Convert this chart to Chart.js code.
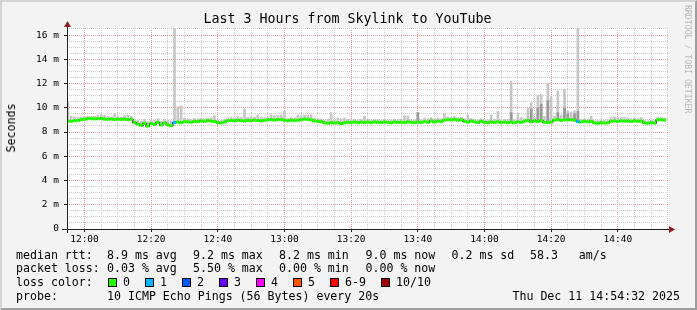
<!DOCTYPE html>
<html>
<head>
<meta charset="utf-8">
<script src="https://cdn.jsdelivr.net/npm/chart.js@4.4.1/dist/chart.umd.min.js"></script>
<style>
  html, body { margin: 0; padding: 0; background: #f3f3f3; }
  #wrap { position: relative; width: 697px; height: 310px; overflow: hidden;
          font-family: "DejaVu Sans Mono", monospace; color: #000; }
  #wrap canvas { position: absolute; left: 0; top: 0; }
  .frame { position: absolute; left: 0; top: 0; width: 697px; height: 310px; box-sizing: border-box;
           border: 2px solid; border-color: #d4d4d4 #9e9e9e #9e9e9e #d4d4d4; pointer-events: none; }
  .t { position: absolute; white-space: pre; font-size: 11.6px; line-height: 14px; }
  .title { position: absolute; left: 0; width: 695px; top: 11.4px; text-align: center;
           font-size: 13.3px; line-height: 16px; white-space: pre; }
  .ylab { position: absolute; left: 11px; top: 127.5px; font-size: 11.6px; line-height: 14px;
          transform: translate(-50%, -50%) rotate(-90deg); white-space: pre; }
  .mark { position: absolute; left: 683px; top: 5px; writing-mode: vertical-rl; font-size: 8.2px;
          line-height: 9px; color: #b8b8b8; white-space: pre; }
  .box { position: absolute; width: 9px; height: 9px; box-sizing: border-box; border: 1px solid #000; top: 278px; }
</style>
</head>
<body>
<div id="wrap">
  <canvas id="chart" width="697" height="310"></canvas>
  <div class="title">Last 3 Hours from Skylink to YouTube</div>
  <div class="ylab">Seconds</div>
  <div class="mark">RRDTOOL / TOBI OETIKER</div>

  <span class="t" style="left:16px;top:247.5px">median rtt:</span>
  <span class="t" style="left:107px;top:247.5px">8.9 ms avg</span>
  <span class="t" style="left:193px;top:247.5px">9.2 ms max</span>
  <span class="t" style="left:279px;top:247.5px">8.2 ms min</span>
  <span class="t" style="left:365.5px;top:247.5px">9.0 ms now</span>
  <span class="t" style="left:451.5px;top:247.5px">0.2 ms sd</span>
  <span class="t" style="left:530px;top:247.5px">58.3   am/s</span>

  <span class="t" style="left:16px;top:261.3px">packet loss:</span>
  <span class="t" style="left:107px;top:261.3px">0.03 % avg</span>
  <span class="t" style="left:193px;top:261.3px">5.50 % max</span>
  <span class="t" style="left:279px;top:261.3px">0.00 % min</span>
  <span class="t" style="left:365.5px;top:261.3px">0.00 % now</span>

  <span class="t" style="left:16px;top:275.3px">loss color:</span>
  <div id="losslegend"></div>

  <span class="t" style="left:16px;top:289px">probe:</span>
  <span class="t" style="left:107px;top:289px">10 ICMP Echo Pings (56 Bytes) every 20s</span>
  <span class="t" style="right:17px;top:289px">Thu Dec 11 14:54:32 2025</span>
  <div class="frame"></div>
</div>
<script>
// one sample per minute, first one at 11:55
const firstSample = '11:55';

// median rtt (ms) per minute
const median = [
  8.90, 8.88, 8.93, 8.95, 9.02, 9.05, 9.10, 9.12, 9.08, 9.10,
  9.12, 9.06, 9.05, 9.08, 9.03, 9.06, 9.04, 9.07, 9.02, 9.05,
  8.78, 8.65, 8.55, 8.72, 8.48, 8.70, 8.62, 8.80, 8.58, 8.75,
  8.60, 8.52, 8.78, 8.82, 8.76, 8.86, 8.84, 8.80, 8.88, 8.86,
  8.92, 8.88, 8.95, 8.90, 8.87, 8.78, 8.74, 8.82, 8.93, 8.96,
  8.92, 8.98, 8.94, 8.90, 8.97, 8.93, 8.99, 8.95, 8.91, 8.96,
  9.00, 9.03, 8.98, 9.02, 9.04, 8.96, 8.92, 8.98, 8.94, 8.97,
  9.02, 9.06, 9.04, 9.00, 8.92, 8.88, 8.86, 8.76, 8.72, 8.78,
  8.74, 8.77, 8.70, 8.76, 8.80, 8.78, 8.83, 8.76, 8.82, 8.79,
  8.81, 8.77, 8.84, 8.80, 8.78, 8.82, 8.80, 8.76, 8.83, 8.79,
  8.81, 8.78, 8.84, 8.80, 8.77, 8.82, 8.79, 8.86, 8.80, 8.92,
  8.82, 8.90, 8.85, 8.98, 9.02, 9.00, 9.04, 8.97, 9.01, 8.88,
  8.82, 8.90, 8.84, 8.78, 8.88, 8.80, 8.76, 8.83, 8.79, 8.85,
  8.77, 8.82, 8.78, 8.81, 8.76, 8.84, 8.80, 8.88, 8.96, 8.84,
  8.93, 8.86, 8.95, 8.80, 8.78, 8.82, 8.98, 9.02, 8.96, 9.01,
  8.99, 9.03, 8.97, 8.86, 8.82, 8.88, 8.84, 8.87, 8.75, 8.72,
  8.77, 8.74, 8.76, 8.88, 8.92, 8.87, 8.93, 8.89, 8.91, 8.86,
  8.94, 8.88, 8.90, 8.76, 8.72, 8.78, 8.74, 9.00, 9.02, 8.98
];

// top of the smoke (slowest ping) per minute
const smokeMax = [
  10.50, 9.30, 9.25, 9.20, 9.25, 9.25, 9.30, 9.28, 9.30, 9.40,
  9.45, 9.38, 9.30, 9.25, 9.50, 9.30, 9.22, 9.35, 9.38, 9.30,
  9.00, 8.95, 8.90, 9.05, 8.85, 9.00, 8.95, 9.10, 8.90, 9.05,
  8.95, 8.90, 16.60, 10.10, 10.15, 9.15, 9.10, 9.05, 9.12, 9.10,
  9.12, 9.10, 9.15, 9.18, 9.35, 9.00, 8.95, 9.05, 9.15, 9.20,
  9.18, 9.25, 9.20, 9.90, 9.20, 9.25, 9.22, 9.40, 9.20, 9.18,
  9.25, 9.40, 9.35, 9.38, 9.40, 9.70, 9.15, 9.20, 9.18, 9.40,
  9.35, 9.40, 9.38, 9.42, 9.15, 9.10, 9.08, 9.00, 9.05, 9.60,
  9.00, 9.15, 9.10, 9.15, 9.05, 9.00, 9.05, 9.00, 9.05, 9.30,
  9.05, 9.00, 9.05, 9.02, 9.00, 9.05, 9.02, 9.00, 9.05, 9.02,
  9.05, 9.35, 9.30, 9.05, 9.00, 9.60, 9.02, 9.15, 9.10, 9.20,
  9.10, 9.15, 9.10, 9.55, 9.25, 9.22, 9.28, 9.20, 9.22, 9.10,
  9.40, 9.12, 9.05, 9.00, 9.10, 9.02, 9.00, 9.40, 9.05, 9.70,
  9.00, 9.05, 9.05, 12.20, 9.00, 9.55, 9.20, 9.10, 9.95, 10.40,
  9.20, 11.05, 11.10, 9.30, 12.00, 10.90, 9.30, 11.40, 9.40, 11.50,
  9.70, 9.65, 9.75, 16.60, 9.05, 9.10, 9.05, 9.30, 8.95, 8.95,
  9.00, 8.95, 9.00, 9.20, 9.25, 9.20, 9.22, 9.20, 9.15, 9.10,
  9.15, 9.10, 9.20, 8.95, 8.92, 9.00, 8.95, 9.20, 9.20, 9.15
];

// darker inner smoke on the busy minutes
const innerAt   = ['13:40', '14:08', '14:14', '14:16', '14:17', '14:19', '14:22', '14:24', '14:25', '14:27', '14:28'];
const innerHigh = [9.6, 9.6, 9.9, 10.0, 10.3, 10.6, 9.6, 10.0, 9.5, 9.5, 9.7];

// minutes with packet loss (pings lost out of 10)
const lossAt    = ['12:27', '14:28'];
const lossCount = [1, 1];

const lossLabels = ['0', '1', '2', '3', '4', '5', '6-9', '10/10'];
const lossColors = ['#26ff00', '#00b8ff', '#0059ff', '#6a00ff', '#ff00ff', '#ff5500', '#ff0000', '#a10000'];

const yTop = 16.58;
const viewStart = 714.75, viewEnd = 895.35; // 11:54:45 .. 14:55:21

const toMin = s => { const [h, m] = s.split(':').map(Number); return h * 60 + m; };
const hhmm = v => Math.floor(v / 60) + ':' + String(v % 60).padStart(2, '0');

const t0 = toMin(firstSample);
const xs = median.map((_, i) => t0 + i);

const lossByMin = {};
lossAt.forEach((s, k) => { lossByMin[toMin(s)] = lossCount[k]; });
const lossColor = n => lossColors[n >= 10 ? 7 : n >= 6 ? 6 : n];

// loss color legend
const lg = document.getElementById('losslegend');
let bx = 108;
lossLabels.forEach((lab, k) => {
  const b = document.createElement('div');
  b.className = 'box'; b.style.left = bx + 'px'; b.style.background = lossColors[k];
  lg.appendChild(b);
  const s = document.createElement('span');
  s.className = 't'; s.style.left = (bx + 15) + 'px'; s.style.top = '275.3px'; s.textContent = lab;
  lg.appendChild(s);
  bx += 15 + lab.length * 7 + 15;
});

const majorGrid = 'rgb(240,150,150)';
const minorGrid = 'rgb(205,205,205)';
const isMajor = (c, every) => !!c.tick && c.tick.value % every === 0;

const frame = {
  id: 'frame',
  beforeDraw(chart) {
    const { ctx, chartArea: a } = chart;
    ctx.save();
    ctx.fillStyle = '#fff';
    ctx.fillRect(a.left, a.top, a.right - a.left, a.bottom - a.top);
    ctx.restore();
  },
  afterDatasetsDraw(chart) {
    const { ctx, chartArea: a } = chart;
    ctx.save();
    ctx.strokeStyle = '#202020';
    ctx.lineWidth = 1;
    ctx.beginPath();
    ctx.moveTo(a.left - 5, a.bottom + 0.5); ctx.lineTo(a.right + 1, a.bottom + 0.5);
    ctx.moveTo(a.left + 0.5, a.bottom + 4); ctx.lineTo(a.left + 0.5, a.top - 3);
    ctx.stroke();
    ctx.fillStyle = '#8f1f1f';
    ctx.beginPath();
    ctx.moveTo(a.left + 0.5, a.top - 7); ctx.lineTo(a.left - 3, a.top - 1); ctx.lineTo(a.left + 4, a.top - 1);
    ctx.closePath(); ctx.fill();
    ctx.beginPath();
    ctx.moveTo(a.right + 6, a.bottom + 0.5); ctx.lineTo(a.right, a.bottom - 3); ctx.lineTo(a.right, a.bottom + 4);
    ctx.closePath(); ctx.fill();
    ctx.restore();
  }
};

const font = { family: '"DejaVu Sans Mono", monospace', size: 9.5 };

new Chart(document.getElementById('chart'), {
  data: {
    datasets: [
      {
        type: 'line', label: 'median', order: 0,
        data: xs.map((x, i) => ({ x, y: median[i] })),
        showLine: false,
        pointStyle: 'line', pointRadius: 1.75, pointBorderWidth: 3,
        pointBorderColor: c => lossColor((c.raw && lossByMin[c.raw.x]) || 0),
        pointBackgroundColor: c => lossColor((c.raw && lossByMin[c.raw.x]) || 0)
      },
      {
        type: 'line', label: 'median link', order: 1,
        data: xs.map((x, i) => ({ x, y: median[i] })),
        stepped: 'middle', borderColor: '#000', borderWidth: 1.2, pointRadius: 0
      },
      {
        type: 'bar', label: 'inner smoke', order: 2, grouped: false,
        data: innerAt.map((s, k) => ({ x: toMin(s), y: [median[toMin(s) - t0], innerHigh[k]] })),
        backgroundColor: '#9a9a9a', barThickness: 2
      },
      {
        type: 'bar', label: 'smoke', order: 3, grouped: false,
        data: xs.map((x, i) => ({ x, y: [median[i], smokeMax[i]] })),
        backgroundColor: '#c6c6c6', barThickness: 2
      }
    ]
  },
  options: {
    responsive: false,
    animation: false,
    events: [],
    layout: { padding: { left: 0, top: 28, right: 28, bottom: 0 } },
    plugins: { legend: { display: false }, tooltip: { enabled: false } },
    scales: {
      x: {
        type: 'linear', min: viewStart, max: viewEnd, offset: false,
        afterFit: s => { s.height = 81; },
        grid: {
          offset: false,
          color: c => isMajor(c, 20) ? majorGrid : minorGrid,
          tickLength: 3,
          tickColor: c => isMajor(c, 20) ? '#202020' : 'rgba(0,0,0,0)'
        },
        border: { display: false, dash: [1, 1] },
        ticks: {
          stepSize: 5, autoSkip: false, maxRotation: 0, includeBounds: false, maxTicksLimit: 1000,
          padding: 2, color: '#000', font,
          callback: v => v % 20 === 0 ? hhmm(v) : ''
        }
      },
      y: {
        type: 'linear', min: 0, max: yTop,
        afterFit: s => { s.width = 67; },
        grid: {
          color: c => isMajor(c, 2) ? majorGrid : minorGrid,
          tickLength: 3,
          tickColor: c => isMajor(c, 2) ? '#202020' : 'rgba(0,0,0,0)'
        },
        border: { display: false, dash: [1, 1] },
        ticks: {
          stepSize: 0.5, autoSkip: false, includeBounds: false, maxTicksLimit: 1000,
          padding: 5, color: '#000', font,
          callback: v => v % 2 === 0 ? (v === 0 ? '0' : v + ' m') : ''
        }
      }
    }
  },
  plugins: [frame]
});
</script>
</body>
</html>
